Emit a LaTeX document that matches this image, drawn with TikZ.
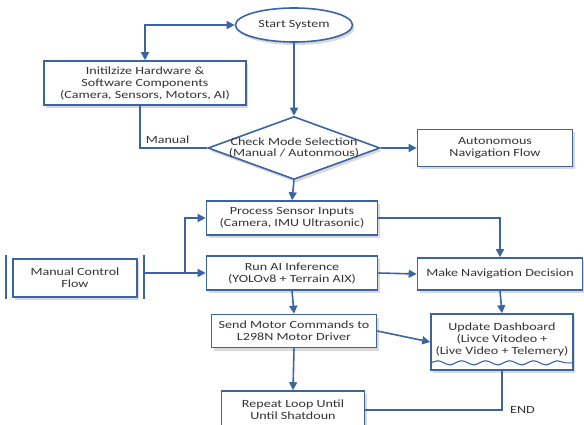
\documentclass[tikz,border=0pt]{standalone}
\usepackage{fontspec}
\setmainfont{Carlito}[FakeStretch=1.28]
\usetikzlibrary{shapes.geometric,arrows.meta,shadows,decorations.pathmorphing}
\begin{document}
\begin{tikzpicture}[x=1pt,y=-1pt, every node/.style={font=\fontsize{11}{12}\selectfont, text=black!80},
  box/.style={draw=flowBlue, line width=1.6pt, fill=white, align=center, inner sep=2pt,
    drop shadow={shadow xshift=2pt, shadow yshift=-3pt, opacity=0.25, fill=black!60}},
  link/.style={draw=flowBlue, line width=1.6pt},
  arr/.style={link, -{Triangle[length=8pt,width=8pt]}}]
  \definecolor{flowBlue}{HTML}{3C64A0}
  \useasboundingbox (0,0) rectangle (584,425);
  % main column
  \node[box, ellipse, minimum width=117, minimum height=34] (start) at (294,25) {Start System};
  \node[box, minimum width=202, minimum height=44] (init) at (145,83)
    {Initilzize Hardware \&\\Software Components\\(Camera, Sensors, Motors, AI)};
  \node[box, diamond, minimum width=172, minimum height=63, inner sep=0pt,
    label={[align=center, font=\fontsize{11}{11.5}\selectfont]center:Check Mode Selection\\(Manual / Autonmous)}] (mode) at (294,148) {};
  \node[box, minimum width=155, minimum height=37] (auto) at (495,148) {Autonomous\\Navigation Flow};
  \node[box, minimum width=171, minimum height=34] (process) at (292,218) {Process Sensor Inputs\\(Camera, IMU Ultrasonic)};
  \node[box, minimum width=171, minimum height=34] (run) at (292,273) {Run AI Inference\\(YOLOv8 + Terrain AIX)};
  \node[box, minimum width=165, minimum height=32] (nav) at (500,274) {Make Navigation Decision};
  \node[box, minimum width=165, minimum height=33] (send) at (294,331) {Send Motor Commands to\\L298N Motor Driver};
  \node[box, minimum width=142, minimum height=56, text depth=6pt] (update) at (502,342)
    {Update Dashboard\\(Livce Vitodeo +\\(Live Video + Telemery)};
  \node[box, minimum width=143, minimum height=38] (repeat) at (293,410) {Repeat Loop Until\\Until Shatdoun};
  % manual side
  \node[box, minimum width=124, minimum height=38] (manual) at (75,278) {Manual Control\\Flow};
  \draw[link] ([xshift=-6]manual.north west) ++(0,-3) -- ++(0,44);
  \draw[link] ([xshift=6]manual.north east) ++(0,-3) -- ++(0,44);
  \draw[link, line width=1.1pt, decorate, decoration={snake, segment length=24, amplitude=2}]
    ([yshift=8]update.south west) -- ([yshift=8]update.south east);
  \coordinate (split) at (185,273);
  % connectors
  \draw[arr, {Triangle[length=8pt,width=8pt]}-{Triangle[length=8pt,width=8pt]}] (init.north) |- (start.west);
  \draw[arr] (start.south) -- (mode.north);
  \draw[link] ([xshift=-5]init.south) |- (mode.west) node[pos=0.75, above, xshift=-6] (manuallbl) {Manual};
  \draw[arr] (mode.east) -- (auto.west);
  \draw[arr] (mode.south) -- (process.north);
  \draw[arr] ([xshift=6]manual.east |- run.west) -- (run.west);
  \draw[arr] (split) |- (process.west);
  \draw[arr] (run.east) -- (nav.west);
  \draw[arr] (process.east) -| (nav.north);
  \draw[arr] (nav.south) -- (update.north);
  \draw[arr] (run.south) -- (send.north);
  \draw[arr] (send.east) -- (update.west);
  \draw[arr] (send.south) -- (repeat.north);
  \draw[link] (update.south) |- (repeat.east) node[pos=0.5, right, xshift=4] (endlbl) {END};
\end{tikzpicture}
\end{document}
